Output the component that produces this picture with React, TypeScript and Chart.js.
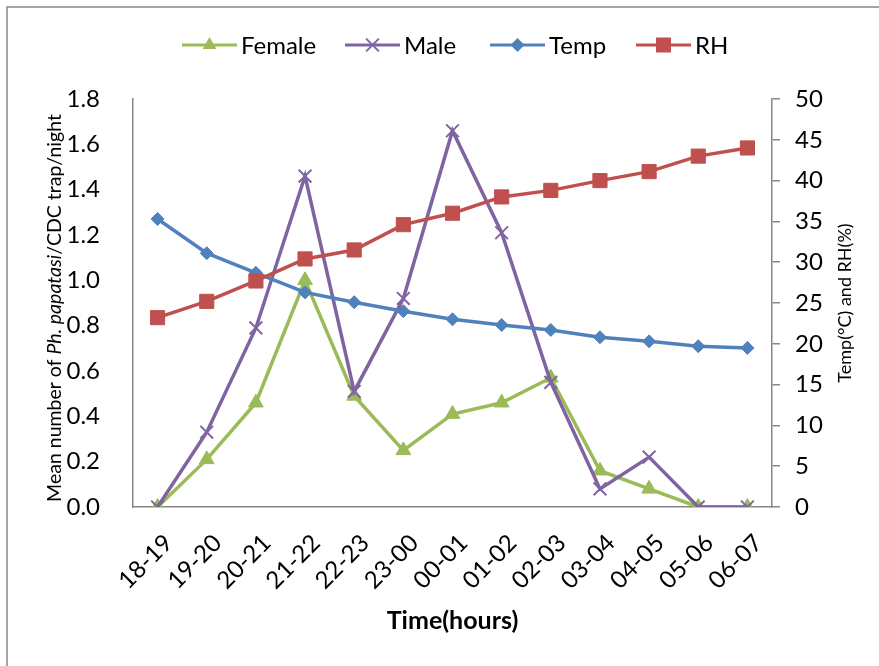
import React, { useEffect, useRef } from "react";
import { Chart, registerables } from "chart.js";

Chart.register(...registerables);

const categories = ["18-19", "19-20", "20-21", "21-22", "22-23", "23-00", "00-01", "01-02", "02-03", "03-04", "04-05", "05-06", "06-07"];
const femaleValues = [0, 0.21, 0.46, 1.0, 0.49, 0.25, 0.41, 0.46, 0.57, 0.16, 0.08, 0, 0];
const maleValues = [0, 0.33, 0.79, 1.46, 0.51, 0.92, 1.66, 1.21, 0.55, 0.08, 0.22, 0, 0];
const tempValues = [35.3, 31.1, 28.7, 26.3, 25.1, 24.0, 23.0, 22.3, 21.7, 20.8, 20.3, 19.7, 19.5];
const rhValues = [23.2, 25.2, 27.7, 30.4, 31.5, 34.6, 36.0, 38.0, 38.8, 40.0, 41.1, 43.0, 44.0];

const seriesNames = ["Female", "Male", "Temp", "RH"];
const seriesColors = ["#9BBB59", "#8064A2", "#4F81BD", "#C0504D"];
const leftTitleParts = [
  { text: "Mean number of ", italic: false },
  { text: "Ph. papatasi", italic: true },
  { text: "/CDC trap/night", italic: false },
];
const rightTitle = "Temp(°C) and RH(%)";
const xTitle = "Time(hours)";

const FONT = "Lato";
const AXIS_COLOR = "#868686";

function drawMarker(ctx: CanvasRenderingContext2D, style: string, x: number, y: number, color: string) {
  ctx.save();
  ctx.fillStyle = color;
  ctx.strokeStyle = color;
  ctx.beginPath();
  if (style === "triangle") {
    const r = 8;
    ctx.moveTo(x, y - r);
    ctx.lineTo(x + r * 0.866, y + r * 0.5);
    ctx.lineTo(x - r * 0.866, y + r * 0.5);
    ctx.closePath();
    ctx.fill();
  } else if (style === "crossRot") {
    const r = 9 * 0.7071;
    ctx.lineWidth = 2;
    ctx.moveTo(x - r, y - r);
    ctx.lineTo(x + r, y + r);
    ctx.moveTo(x - r, y + r);
    ctx.lineTo(x + r, y - r);
    ctx.stroke();
  } else if (style === "rectRot") {
    const r = 7;
    ctx.moveTo(x - r, y);
    ctx.lineTo(x, y - r);
    ctx.lineTo(x + r, y);
    ctx.lineTo(x, y + r);
    ctx.closePath();
    ctx.fill();
  } else {
    const s = 7.5;
    ctx.rect(x - s, y - s, 2 * s, 2 * s);
    ctx.fill();
  }
  ctx.restore();
}

const pointStyles = ["triangle", "crossRot", "rectRot", "rect"];

const customPlugin = {
  id: "customDecor",
  beforeDraw(chart: any) {
    const ctx = chart.ctx as CanvasRenderingContext2D;
    ctx.save();
    ctx.fillStyle = "#ffffff";
    ctx.fillRect(0, 0, chart.width, chart.height);
    ctx.strokeStyle = AXIS_COLOR;
    ctx.lineWidth = 1.5;
    ctx.beginPath();
    ctx.moveTo(7, chart.height);
    ctx.lineTo(7, 7);
    ctx.lineTo(chart.width, 7);
    ctx.stroke();
    ctx.restore();
  },
  afterDraw(chart: any) {
    const ctx = chart.ctx as CanvasRenderingContext2D;
    const area = chart.chartArea;
    const xScale = chart.scales.x;

    // Legend
    const legendY = 45;
    const legendX = [182, 345, 490, 636];
    ctx.save();
    seriesNames.forEach((name, i) => {
      const x0 = legendX[i];
      ctx.strokeStyle = seriesColors[i];
      ctx.lineWidth = 3;
      ctx.beginPath();
      ctx.moveTo(x0, legendY);
      ctx.lineTo(x0 + 55, legendY);
      ctx.stroke();
      drawMarker(ctx, pointStyles[i], x0 + 27.5, legendY, seriesColors[i]);
      ctx.fillStyle = "#000";
      ctx.font = `24px ${FONT}`;
      ctx.textAlign = "left";
      ctx.textBaseline = "middle";
      ctx.fillText(name, x0 + 59, legendY + 1);
    });
    ctx.restore();

    // X tick labels, rotated
    ctx.save();
    ctx.font = `24px ${FONT}`;
    ctx.fillStyle = "#000";
    ctx.textAlign = "right";
    ctx.textBaseline = "middle";
    categories.forEach((c, i) => {
      const px = xScale.getPixelForTick(i);
      ctx.save();
      ctx.translate(px + 11, area.bottom + 32);
      ctx.rotate(-Math.PI / 4);
      ctx.fillText(c, 0, 0);
      ctx.restore();
    });
    ctx.restore();

    // X title
    ctx.save();
    ctx.font = `bold 25px ${FONT}`;
    ctx.fillStyle = "#000";
    ctx.textAlign = "center";
    ctx.textBaseline = "middle";
    ctx.fillText(xTitle, (area.left + area.right) / 2, 621);
    ctx.restore();

    // Left title with italic part
    ctx.save();
    const leftSize = 19.5;
    const fontFor = (it: boolean) => `${it ? "italic " : ""}${leftSize}px ${FONT}`;
    let total = 0;
    const widths = leftTitleParts.map((p) => {
      ctx.font = fontFor(p.italic);
      const w = ctx.measureText(p.text).width;
      total += w;
      return w;
    });
    ctx.translate(55, (area.top + area.bottom) / 2 + 5);
    ctx.rotate(-Math.PI / 2);
    ctx.fillStyle = "#000";
    ctx.textBaseline = "middle";
    ctx.textAlign = "left";
    let cx = -total / 2;
    leftTitleParts.forEach((p, i) => {
      ctx.font = fontFor(p.italic);
      ctx.fillText(p.text, cx, 0);
      cx += widths[i];
    });
    ctx.restore();

    // Right title
    ctx.save();
    ctx.font = `18px ${FONT}`;
    ctx.fillStyle = "#000";
    ctx.textAlign = "center";
    ctx.textBaseline = "middle";
    ctx.translate(845, (area.top + area.bottom) / 2);
    ctx.rotate(-Math.PI / 2);
    ctx.fillText(rightTitle, 0, 0);
    ctx.restore();
  },
};

export default function App() {
  const canvasRef = useRef<HTMLCanvasElement | null>(null);

  useEffect(() => {
    if (!canvasRef.current) return;
    const chart = new Chart(canvasRef.current, {
      type: "line",
      data: {
        labels: categories,
        datasets: [
          {
            label: seriesNames[0],
            data: femaleValues,
            borderColor: seriesColors[0],
            backgroundColor: seriesColors[0],
            borderWidth: 3.5,
            pointStyle: "triangle",
            pointRadius: 8.5,
            pointBorderWidth: 1,
            yAxisID: "y",
            order: 4,
            tension: 0,
          },
          {
            label: seriesNames[1],
            data: maleValues,
            borderColor: seriesColors[1],
            backgroundColor: seriesColors[1],
            borderWidth: 3.5,
            pointStyle: "crossRot",
            pointRadius: 9,
            pointBorderWidth: 2,
            yAxisID: "y",
            order: 3,
            tension: 0,
          },
          {
            label: seriesNames[2],
            data: tempValues,
            borderColor: seriesColors[2],
            backgroundColor: seriesColors[2],
            borderWidth: 3.5,
            pointStyle: "rectRot",
            pointRadius: 6.5,
            pointBorderWidth: 1,
            yAxisID: "y1",
            order: 2,
            tension: 0,
          },
          {
            label: seriesNames[3],
            data: rhValues,
            borderColor: seriesColors[3],
            backgroundColor: seriesColors[3],
            borderWidth: 3.5,
            pointStyle: "rect",
            pointRadius: 10,
            pointBorderWidth: 1,
            yAxisID: "y1",
            order: 1,
            tension: 0,
          },
        ],
      },
      options: {
        responsive: false,
        animation: false,
        devicePixelRatio: 1,
        layout: { padding: { top: 99, left: 0, right: 0, bottom: 0 } },
        plugins: {
          legend: { display: false },
          tooltip: { enabled: false },
          title: { display: false },
        },
        scales: {
          x: {
            type: "category",
            offset: true,
            grid: { display: false },
            border: { display: true, color: AXIS_COLOR, width: 1.5 },
            ticks: { display: false },
            afterFit: (s: any) => {
              s.height = 159;
            },
          },
          y: {
            position: "left",
            min: 0,
            max: 1.8,
            grid: { display: false },
            border: { display: true, color: AXIS_COLOR, width: 1.5 },
            ticks: {
              stepSize: 0.2,
              padding: 25,
              color: "#000",
              font: { family: FONT, size: 24 },
              callback: (v: any) => Number(v).toFixed(1),
            },
            afterFit: (s: any) => {
              s.width = 133;
            },
          },
          y1: {
            position: "right",
            min: 0,
            max: 50,
            grid: {
              display: true,
              drawOnChartArea: false,
              drawTicks: true,
              tickLength: 8,
              color: AXIS_COLOR,
              lineWidth: 1.5,
            },
            border: { display: true, color: AXIS_COLOR, width: 1.5 },
            ticks: {
              stepSize: 5,
              padding: 15,
              color: "#000",
              font: { family: FONT, size: 24 },
            },
            afterFit: (s: any) => {
              s.width = 107;
            },
          },
        },
      },
      plugins: [customPlugin],
    });
    return () => chart.destroy();
  }, []);

  return (
    <div style={{ position: "fixed", left: 0, top: 0, width: 879, height: 666, background: "#fff" }}>
      <canvas ref={canvasRef} width={879} height={666} style={{ display: "block", width: 879, height: 666 }} />
    </div>
  );
}
